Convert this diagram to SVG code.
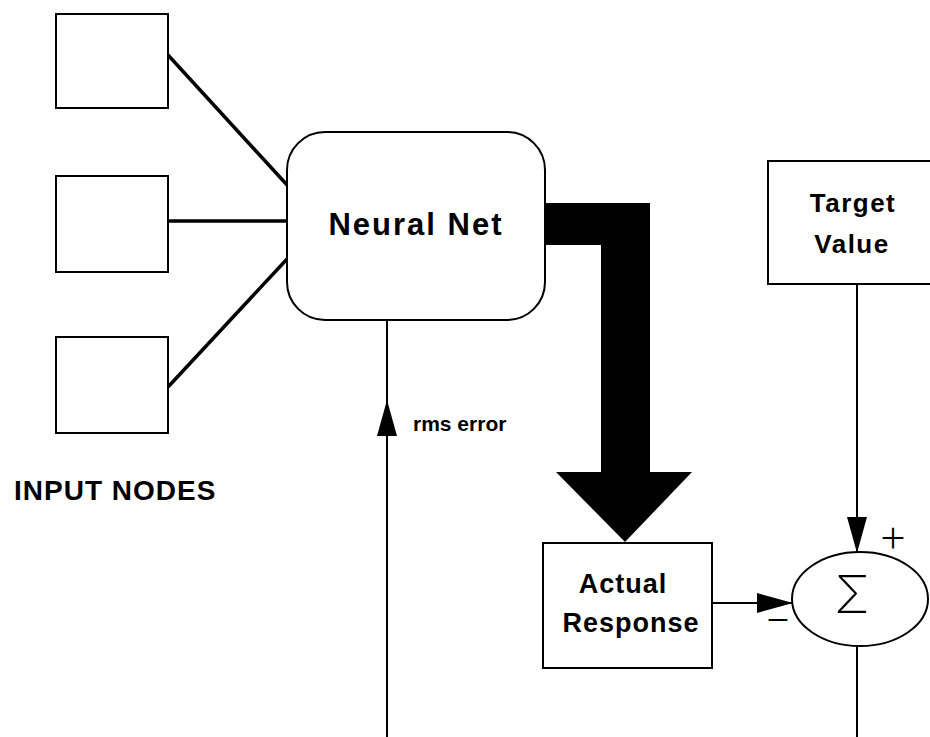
<svg xmlns="http://www.w3.org/2000/svg" width="930" height="737" viewBox="0 0 930 737">
<style>
.box{fill:#fff;stroke:#000;stroke-width:2}
.lbl{font-family:"Liberation Sans",Arial,sans-serif;font-weight:bold;fill:#000}
.thin{stroke:#000;stroke-width:2;fill:none}
.thick{stroke:#000;stroke-width:3.5;fill:none}
.sign{font-family:Inter,"DejaVu Sans",sans-serif;font-weight:200;fill:#000}
</style>
<defs>
<marker id="ah" markerUnits="userSpaceOnUse" markerWidth="36" markerHeight="20" refX="35" refY="10" orient="auto">
<path d="M0,0 L36,10 L0,20 Z" fill="#000"/>
</marker>
</defs>
<g id="connectors">
<line class="thick" x1="168" y1="55" x2="288" y2="186"/>
<line class="thick" x1="168" y1="221" x2="288" y2="221"/>
<line class="thick" x1="168" y1="387" x2="288" y2="258"/>
<path id="thick-arrow" d="M545,203 L650,203 L650,472 L692,472 L625,542 L556,472 L601,472 L601,245 L545,245 Z" fill="#000"/>
<line class="thin" x1="387" y1="320" x2="387" y2="401"/>
<line class="thin" x1="387" y1="737" x2="387" y2="401" marker-end="url(#ah)"/>
<line class="thin" x1="857" y1="284" x2="857" y2="552" marker-end="url(#ah)"/>
<line class="thin" x1="712" y1="603" x2="792" y2="603" marker-end="url(#ah)"/>
<line class="thin" x1="857" y1="646" x2="857" y2="737"/>
</g>
<g id="input1"><rect class="box" x="56" y="14" width="112" height="94"/></g>
<g id="input2"><rect class="box" x="56" y="176" width="112" height="96"/></g>
<g id="input3"><rect class="box" x="56" y="337" width="112" height="96"/></g>
<g id="input-label"><text class="lbl" x="14" y="500" font-size="28" letter-spacing="1">INPUT NODES</text></g>
<g id="neural-net">
<rect class="box" x="287" y="132" width="258" height="188" rx="38" ry="38"/>
<text class="lbl" x="416" y="235" font-size="31" letter-spacing="2" text-anchor="middle">Neural Net</text>
</g>
<g id="rms-label"><text class="lbl" x="413" y="431" font-size="21">rms error</text></g>
<g id="target">
<rect class="box" x="768" y="161" width="180" height="123"/>
<text class="lbl" x="853" y="212" font-size="26" letter-spacing="1.5" text-anchor="middle">Target</text>
<text class="lbl" x="852" y="253" font-size="26" letter-spacing="1.5" text-anchor="middle">Value</text>
</g>
<g id="actual">
<rect class="box" x="543" y="543" width="169" height="125"/>
<text class="lbl" x="623" y="593" font-size="27" letter-spacing="1" text-anchor="middle">Actual</text>
<text class="lbl" x="631" y="632" font-size="27" letter-spacing="1" text-anchor="middle">Response</text>
</g>
<g id="sum">
<ellipse class="box" cx="860" cy="599" rx="68" ry="47"/>
<text class="sign" x="852" y="613" font-size="52" text-anchor="middle">Σ</text>
<text class="sign" x="893" y="552" font-size="48" text-anchor="middle">+</text>
<text class="sign" x="778" y="633" font-size="44" text-anchor="middle">−</text>
</g>
</svg>
